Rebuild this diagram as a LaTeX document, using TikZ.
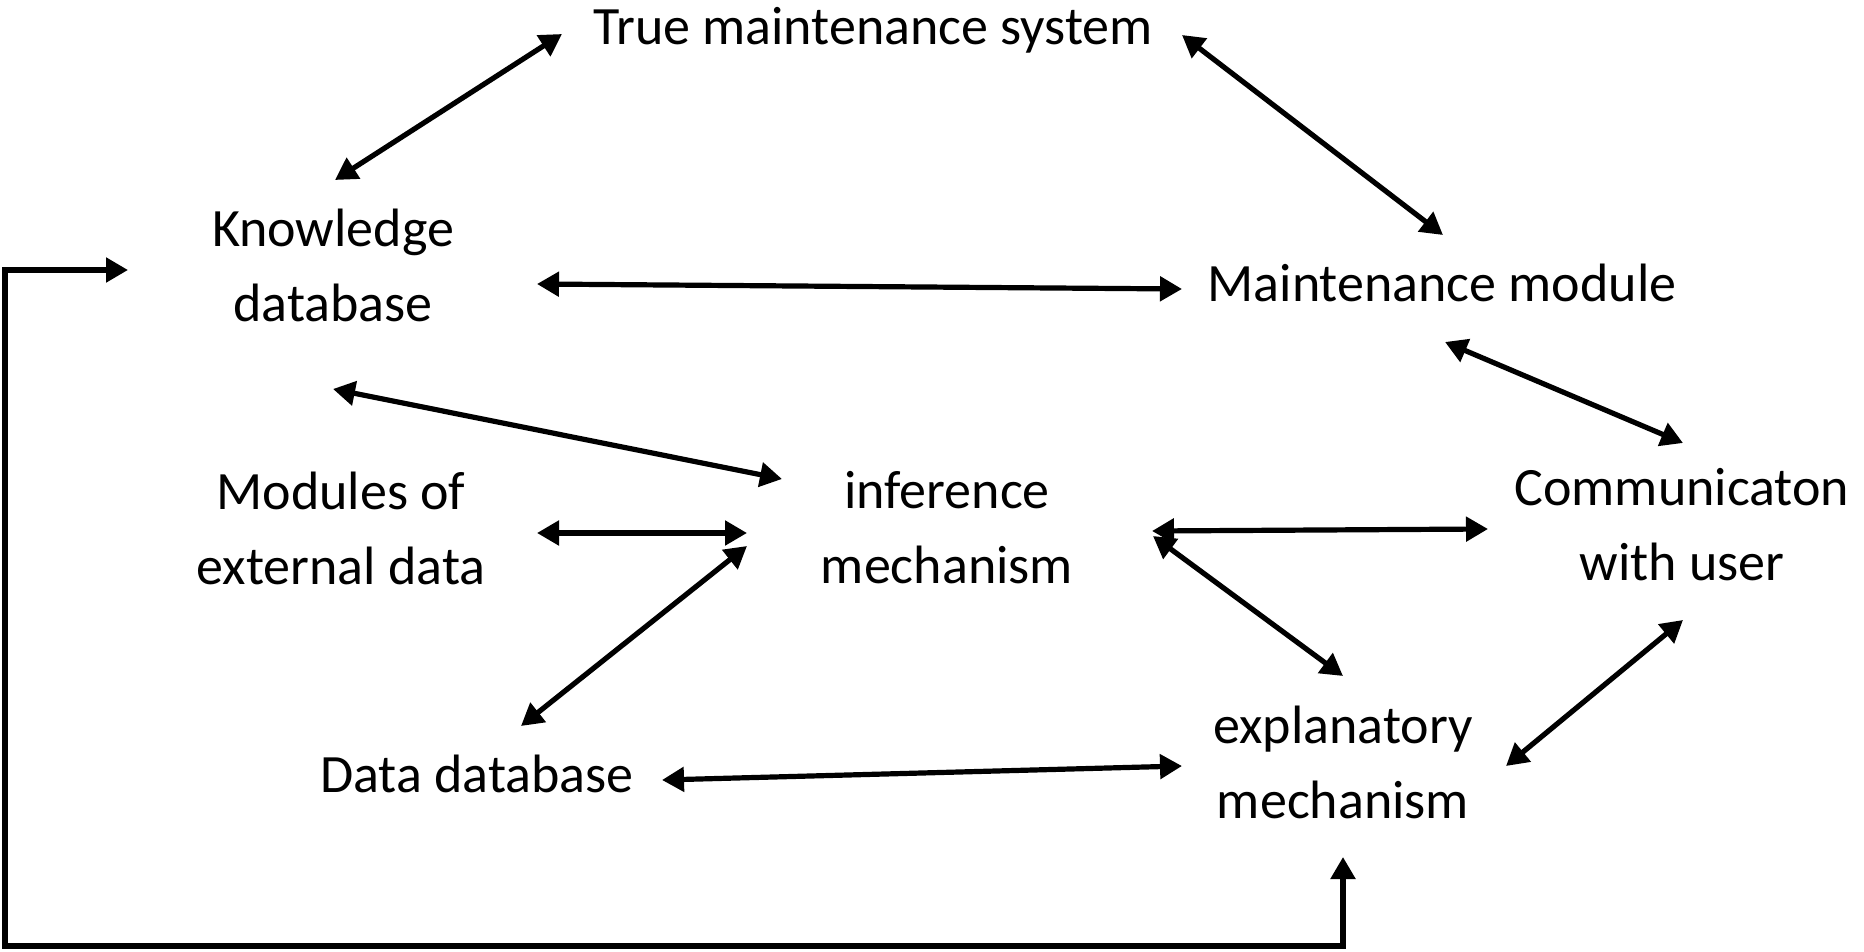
\documentclass[tikz,border=0pt]{standalone}
\usepackage{fontspec}
\setmainfont{Carlito}
\usetikzlibrary{arrows.meta,calc}
\begin{document}
\begin{tikzpicture}[x=0.5pt,y=-0.5pt,
  label/.style={align=center,inner sep=0pt,font=\fontsize{27pt}{37.5pt}\selectfont},
  link/.style={line width=2.6pt,
    {Triangle[length=11pt,width=12pt]}-{Triangle[length=11pt,width=12pt]}}]
  \useasboundingbox (0,0) rectangle (1864,952);

  % components
  \node[label] (tms) at (873,30)   {True maintenance system};
  \node[label] (kb)  at (333,265)  {Knowledge\\database};
  \node[label] (mm)  at (1442,283) {Maintenance module};
  \node[label] (med) at (341,528)  {Modules of\\external data};
  \node[label] (inf) at (947,528)  {inference\\mechanism};
  \node[label] (com) at (1682,525) {Communicaton\\with user};
  \node[label] (exp) at (1343,762) {explanatory\\mechanism};
  \node[label] (dd)  at (477,774)  {Data database};
  \coordinate (corner) at (5,946);

  % links between components
  \draw[link] ($(kb)+(2,-85)$)    -- ($(tms)+(-311,4)$);
  \draw[link] ($(tms)+(309,5)$)   -- ($(mm)+(1,-48)$);
  \draw[link] ($(kb)+(204,19)$)   -- ($(mm)+(-260,6)$);
  \draw[link] ($(mm)+(3,59)$)     -- ($(com)+(1,-82)$);
  \draw[link] ($(kb)+(0,124)$)    -- ($(inf)+(-165,-49)$);
  \draw[link] ($(med)+(196,5)$)   -- ($(inf)+(-200,5)$);
  \draw[link] ($(inf)+(-200,18)$) -- ($(dd)+(44,-48)$);
  \draw[link] ($(inf)+(205,3)$)   -- ($(com)+(-194,4)$);
  \draw[link] ($(inf)+(206,8)$)   -- ($(exp)+(0,-86)$);
  \draw[link] ($(exp)+(163,4)$)   -- ($(com)+(1,95)$);
  \draw[link] ($(dd)+(185,6)$)    -- ($(exp)+(-161,4)$);

  % feedback loop around the left and bottom edges
  \draw[link] ($(exp)+(0,95)$) |- (corner) |- ($(kb)+(-205,5)$);
\end{tikzpicture}
\end{document}
